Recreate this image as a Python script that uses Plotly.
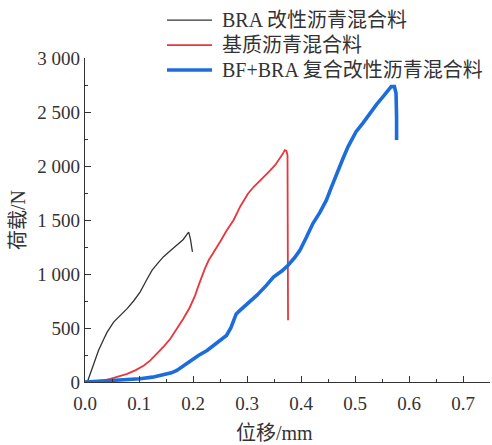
import plotly.graph_objects as go

# Load–displacement curves (displacement in mm, load in N)
bra_disp = [0.0, 0.005, 0.015, 0.025, 0.035, 0.041, 0.053, 0.065, 0.078, 0.090, 0.102,
            0.113, 0.124, 0.135, 0.145, 0.158, 0.170, 0.182, 0.189, 0.192, 0.195, 0.197, 0.199]
bra_load = [0, 10, 150, 292, 400, 462, 555, 615, 679, 750, 833,
            935, 1034, 1100, 1158, 1215, 1266, 1320, 1370, 1387, 1330, 1260, 1204]

base_disp = [0.0, 0.02, 0.035, 0.047, 0.062, 0.078, 0.094, 0.109, 0.121, 0.133, 0.146,
             0.158, 0.170, 0.182, 0.194, 0.204, 0.210, 0.216, 0.222, 0.229, 0.240, 0.250,
             0.262, 0.275, 0.288, 0.302, 0.313, 0.324, 0.338, 0.352, 0.360, 0.366, 0.370,
             0.373, 0.375, 0.375, 0.376]
base_load = [0, 5, 14, 30, 50, 76, 110, 153, 200, 261, 330,
             400, 490, 586, 690, 802, 890, 972, 1050, 1127, 1210, 1297,
             1400, 1498, 1630, 1746, 1810, 1869, 1935, 2008, 2060, 2110, 2147,
             2140, 2100, 1200, 571]

bf_disp = [0.0, 0.03, 0.06, 0.08, 0.102, 0.125, 0.146, 0.160, 0.170, 0.182, 0.195,
           0.210, 0.226, 0.245, 0.262, 0.270, 0.275, 0.280, 0.287, 0.300, 0.318, 0.335,
           0.349, 0.365, 0.376, 0.388, 0.398, 0.410, 0.422, 0.435, 0.447, 0.456, 0.466,
           0.477, 0.487, 0.495, 0.502, 0.515, 0.527, 0.540, 0.552, 0.562, 0.567, 0.573,
           0.576, 0.577, 0.577]
bf_load = [0, 8, 12, 18, 30, 45, 67, 85, 107, 150, 199,
           245, 292, 360, 431, 500, 571, 630, 663, 720, 802, 890,
           972, 1030, 1081, 1150, 1220, 1340, 1467, 1570, 1684, 1800, 1931,
           2060, 2178, 2250, 2317, 2400, 2488, 2570, 2642, 2700, 2735, 2735,
           2673, 2450, 2240]

series_names = ["BRA 改性沥青混合料", "基质沥青混合料", "BF+BRA 复合改性沥青混合料"]
series_colors = ["#333333", "#e8363c", "#1c6ddb"]
series_widths = [1.3, 1.8, 3.6]

x_ticks = [0.0, 0.1, 0.2, 0.3, 0.4, 0.5, 0.6, 0.7]
x_ticktext = ["0.0", "0.1", "0.2", "0.3", "0.4", "0.5", "0.6", "0.7"]
y_ticks = [0, 500, 1000, 1500, 2000, 2500, 3000]
y_ticktext = ["0", "500", "1 000", "1 500", "2 000", "2 500", "3 000"]

FONT = "Liberation Serif, Times New Roman, Noto Sans CJK SC, serif"
TEXT = "#333333"

fig = go.Figure()
data = [(bra_disp, bra_load), (base_disp, base_load), (bf_disp, bf_load)]
for (xs, ys), name, color, width in zip(data, series_names, series_colors, series_widths):
    fig.add_trace(go.Scatter(x=xs, y=ys, mode="lines", name=name,
                             line=dict(color=color, width=width),
                             showlegend=False))

# Legend drawn as line samples plus labels above the plot area
legend_rows = [1.117, 1.040, 0.963]
for yrow, name, color, width in zip(legend_rows, series_names, series_colors, series_widths):
    fig.add_shape(type="line", xref="paper", yref="paper",
                  x0=0.2025, x1=0.3136, y0=yrow, y1=yrow,
                  line=dict(color=color, width=width))
    fig.add_annotation(xref="paper", yref="paper", x=0.333, y=yrow,
                       xanchor="left", yanchor="middle", showarrow=False,
                       text=name, font=dict(size=20, color=TEXT, family=FONT))

# X axis title, placed slightly left of the plot centre
fig.add_annotation(xref="paper", yref="paper", x=0.467, y=-0.157,
                   xanchor="center", yanchor="middle", showarrow=False,
                   text="位移/mm", font=dict(size=20, color=TEXT, family=FONT))

fig.update_layout(
    width=492, height=445,
    margin=dict(l=85, r=2, t=58, b=63),
    paper_bgcolor="white", plot_bgcolor="white",
    font=dict(family=FONT, size=19, color=TEXT),
    showlegend=False,
)

fig.update_xaxes(
    range=[0, 0.75], tickvals=x_ticks, ticktext=x_ticktext,
    ticks="inside", ticklen=6, tickwidth=1, tickcolor=TEXT,
    minor=dict(dtick=0.05, tick0=0, ticks="inside", ticklen=3, tickcolor=TEXT),
    showline=True, linecolor=TEXT, linewidth=1.3,
    showgrid=False, zeroline=False,
    ticklabelstandoff=4,
)
fig.update_yaxes(
    range=[0, 3000], tickvals=y_ticks, ticktext=y_ticktext,
    ticks="inside", ticklen=6, tickwidth=1, tickcolor=TEXT,
    minor=dict(dtick=250, tick0=0, ticks="inside", ticklen=3, tickcolor=TEXT),
    showline=True, linecolor=TEXT, linewidth=1.3,
    showgrid=False, zeroline=False,
    title=dict(text="荷载/N", font=dict(size=20), standoff=6),
)

fig.write_html("out.html")
